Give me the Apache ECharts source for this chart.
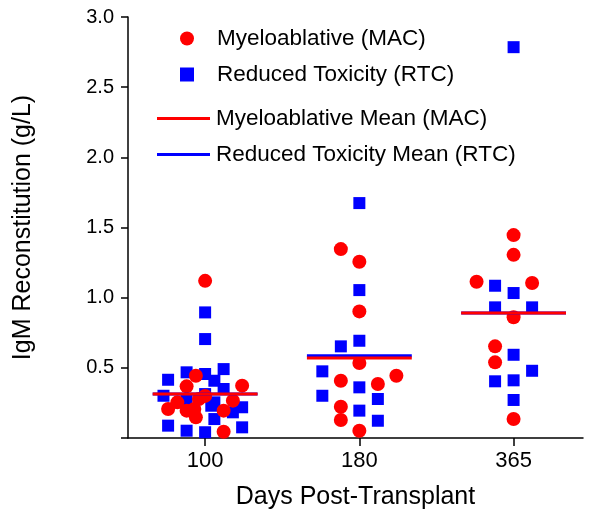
<!DOCTYPE html>
<html><head><meta charset="utf-8">
<script src="https://cdn.jsdelivr.net/npm/echarts@6/dist/echarts.min.js"></script>
<style>html,body{margin:0;padding:0;background:#fff}#c{width:600px;height:515px}</style>
</head><body><div id="c"></div>
<script>
// Categories (days post-transplant)
var categories = ['100', '180', '365'];
var yTicks = ['0.5', '1.0', '1.5', '2.0', '2.5', '3.0'];

// Myeloablative (MAC) IgM values (g/L) per day, with horizontal jitter (category units)
var mac100 = [1.12, 0.444, 0.368, 0.373, 0.254, 0.207, 0.278, 0.266, 0.195, 0.207, 0.147, 0.195, 0.045, 0.30];
var mac100Jit = [0, -0.06, -0.12, 0.24, -0.18, -0.24, -0.04, 0.18, -0.12, -0.07, -0.06, 0.12, 0.12, 0.0];
var mac180 = [1.346, 1.256, 0.902, 0.534, 0.408, 0.385, 0.444, 0.223, 0.128, 0.052];
var mac180Jit = [-0.12, 0, 0, 0, -0.12, 0.12, 0.24, -0.12, -0.12, 0];
var mac365 = [1.446, 1.305, 1.113, 1.104, 0.860, 0.653, 0.539, 0.135];
var mac365Jit = [0, 0, -0.24, 0.12, 0, -0.12, -0.12, 0];

// Reduced Toxicity (RTC) IgM values (g/L)
var rtc100 = [0.895, 0.705, 0.415, 0.468, 0.456, 0.491, 0.408, 0.301, 0.313, 0.349, 0.278, 0.254, 0.135, 0.183, 0.219, 0.088, 0.052, 0.041, 0.076, 0.23];
var rtc100Jit = [0, 0, -0.24, -0.12, 0, 0.12, 0.06, -0.27, 0, 0.12, -0.12, 0.06, 0.06, 0.18, 0.24, -0.24, -0.12, 0, 0.24, 0.04];
var rtc180 = [1.674, 1.054, 0.693, 0.653, 0.475, 0.361, 0.301, 0.278, 0.195, 0.123];
var rtc180Jit = [0, 0, 0, -0.12, -0.24, 0, -0.24, 0.12, 0, 0.12];
var rtc365 = [2.785, 1.085, 1.033, 0.931, 0.931, 0.593, 0.479, 0.411, 0.404, 0.271];
var rtc365Jit = [0, -0.12, 0, -0.12, 0.12, 0, 0.12, 0, -0.12, 0];

// Group means
var macMean = [0.313, 0.570, 0.890];
var rtcMean = [0.313, 0.586, 0.890];

var RED = '#ff0000', BLUE = '#0000ff';
var HALF = 0.34;

function pts(vals, jit, cat) {
  return vals.map(function (v, i) { return [cat + jit[i], v]; });
}
function meanLine(means) {
  var d = [];
  means.forEach(function (m, i) {
    d.push([i + 1 - HALF, m]); d.push([i + 1 + HALF, m]);
    if (i < means.length - 1) d.push([i + 1.5, '-']);
  });
  return d;
}
var macData = pts(mac100, mac100Jit, 1).concat(pts(mac180, mac180Jit, 2), pts(mac365, mac365Jit, 3));
var rtcData = pts(rtc100, rtc100Jit, 1).concat(pts(rtc180, rtc180Jit, 2), pts(rtc365, rtc365Jit, 3));

var FONT = 'Liberation Sans, Arial, sans-serif';
var chart = echarts.init(document.getElementById('c'), null, {renderer: 'canvas'});
chart.setOption({
  animation: false,
  backgroundColor: '#fff',
  grid: {left: 128, right: 17, top: 17, bottom: 76},
  legend: [{
    data: [{name: 'Myeloablative (MAC)', icon: 'circle'}, {name: 'Reduced Toxicity (RTC)', icon: 'rect'}],
    orient: 'vertical', left: 175, top: 22, itemWidth: 14, itemHeight: 14, itemGap: 13,
    textStyle: {fontFamily: FONT, fontSize: 22.5, color: '#000', padding: [0, 0, 0, 18]}
  }, {
    data: [{name: 'Myeloablative Mean (MAC)', icon: 'rect'}, {name: 'Reduced Toxicity Mean (RTC)', icon: 'rect'}],
    orient: 'vertical', left: 152, top: 102, itemWidth: 53, itemHeight: 3, itemGap: 13,
    textStyle: {fontFamily: FONT, fontSize: 22.5, color: '#000', padding: [0, 0, 0, 1]}
  }],
  xAxis: {
    type: 'value', min: 0.5, max: 3.45,
    name: 'Days Post-Transplant', nameLocation: 'middle', nameGap: 47,
    nameTextStyle: {fontFamily: FONT, fontSize: 25, color: '#000'},
    axisLine: {show: true, lineStyle: {color: '#000', width: 1.5}},
    axisTick: {show: true, customValues: [1, 2, 3], length: 8, lineStyle: {color: '#000', width: 1.5}},
    axisLabel: {customValues: [1, 2, 3], margin: 12, fontFamily: FONT, fontSize: 22, color: '#000',
      formatter: function (v) { return categories[Math.round(v) - 1] || ''; }},
    splitLine: {show: false}
  },
  yAxis: {
    type: 'value', min: 0, max: 3, interval: 0.5,
    name: 'IgM Reconstitution (g/L)', nameLocation: 'middle', nameGap: 92,
    nameTextStyle: {fontFamily: FONT, fontSize: 25, color: '#000'},
    axisLine: {show: true, lineStyle: {color: '#000', width: 1.5}},
    axisTick: {show: true, length: 7, lineStyle: {color: '#000', width: 1.5}},
    axisLabel: {margin: 14, fontFamily: FONT, fontSize: 20, color: '#000',
      formatter: function (v) { var i = Math.round(v / 0.5) - 1; return i >= 0 ? yTicks[i] : ''; }},
    splitLine: {show: false}
  },
  series: [{
    name: 'Myeloablative (MAC)', type: 'scatter', symbol: 'circle', symbolSize: 14,
    itemStyle: {color: RED, opacity: 1}, data: macData, z: 3
  }, {
    name: 'Reduced Toxicity (RTC)', type: 'scatter', symbol: 'rect', symbolSize: 12,
    itemStyle: {color: BLUE, opacity: 1}, data: rtcData, z: 2
  }, {
    name: 'Reduced Toxicity Mean (RTC)', type: 'line', symbol: 'none', connectNulls: false,
    lineStyle: {color: BLUE, width: 3}, itemStyle: {color: BLUE}, data: meanLine(rtcMean), z: 4
  }, {
    name: 'Myeloablative Mean (MAC)', type: 'line', symbol: 'none', connectNulls: false,
    lineStyle: {color: RED, width: 3}, itemStyle: {color: RED}, data: meanLine(macMean), z: 5
  }]
});
</script></body></html>
